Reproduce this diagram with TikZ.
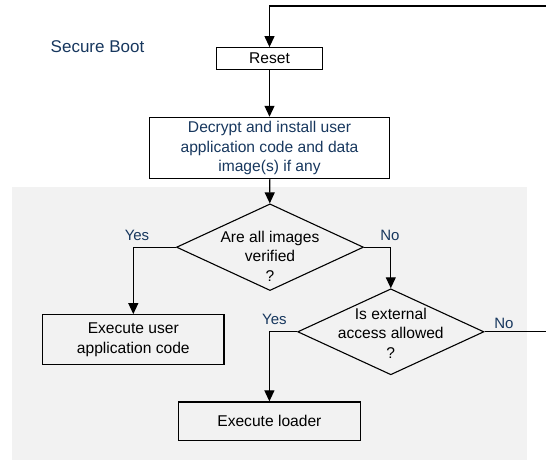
\documentclass[tikz,border=0pt]{standalone}
\usepackage{fontspec}
\setmainfont{Liberation Sans}
\usetikzlibrary{shapes.geometric,arrows.meta}
\definecolor{lblue}{RGB}{23,55,94}
\definecolor{bggray}{RGB}{242,242,242}
\begin{document}
\begin{tikzpicture}[x=1pt,y=-1pt,
  font=\fontsize{15.6}{19.6}\selectfont,
  box/.style={draw=black,line width=1.2pt,inner sep=0pt,align=center},
  dia/.style={draw=black,line width=1.1pt,shape=diamond,inner sep=0pt},
  conn/.style={draw=black,line width=1.2pt,-{Triangle[width=10pt,length=11pt]}},
  lbl/.style={text=lblue,inner sep=0pt,font=\fontsize{15}{18}\selectfont}]
\useasboundingbox (0,0) rectangle (546,460);
\fill[bggray] (12,187) rectangle (526.5,460);
\node[lbl,font=\fontsize{17}{20}\selectfont] (title) at (97.5,47) {Secure Boot};
\node[box,minimum width=106pt,minimum height=22pt] (reset) at (269.5,58.7) {Reset};
\node[box,minimum width=239.5pt,minimum height=61.3pt,text=lblue] (dec) at (269.5,148) {Decrypt and install user\\application code and data\\image(s) if any};
\node[dia,minimum width=187pt,minimum height=86.7pt] (d1) at (270,247.2) {};
\node[inner sep=0pt,align=center] (d1t) at (270,256.3) {Are all images\\verified\\?};
\node[box,minimum width=181.5pt,minimum height=49.8pt] (euc) at (133.3,339.6) {Execute user\\application code};
\node[dia,minimum width=186.3pt,minimum height=86pt] (d2) at (390.8,331.8) {};
\node[inner sep=0pt,align=center] (d2t) at (390.8,333.2) {Is external\\access allowed\\?};
\node[box,minimum width=182pt,minimum height=38.5pt] (ld) at (269.4,421.2) {Execute loader};
\node[lbl] (y1) at (137,235.7) {Yes};
\node[lbl] (n1) at (390,235.7) {No};
\node[lbl] (y2) at (274.4,319.3) {Yes};
\node[lbl] (n2) at (504,323.5) {No};
\coordinate (cr) at (550,6);
\draw[conn] (reset) -- (dec);
\draw[conn] (dec) -- (d1);
\draw[conn] (d1.west) -| (euc.north);
\draw[conn] (d1.east) -| (d2.north);
\draw[conn] (d2.west) -| (ld.north);
\draw[conn] (d2.east) -| (cr) -| (reset.north);
\end{tikzpicture}
\end{document}
